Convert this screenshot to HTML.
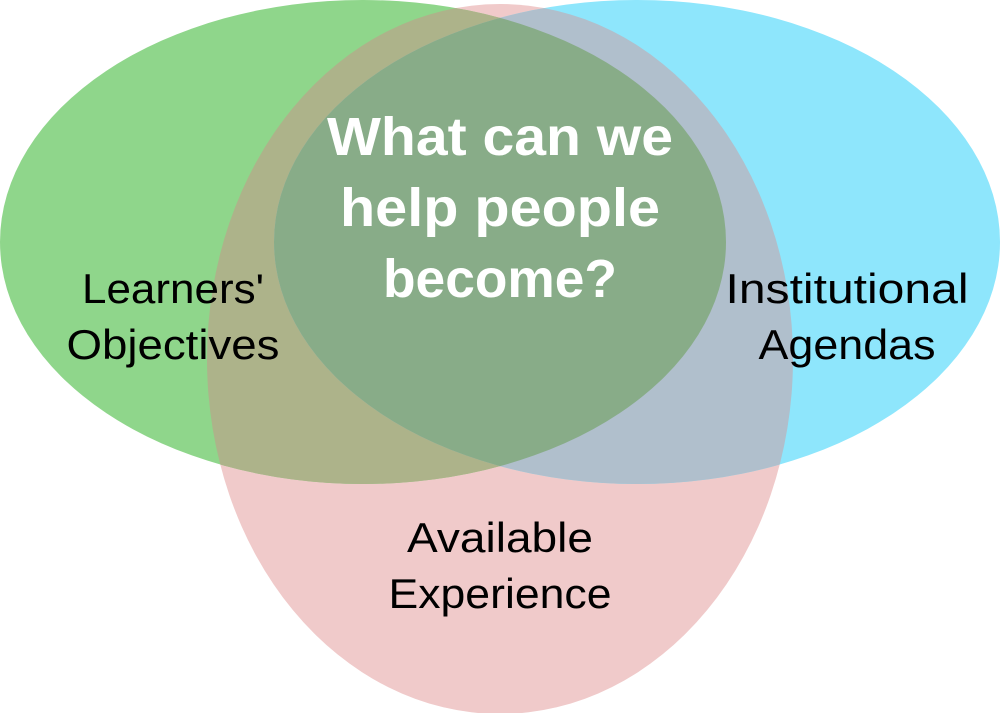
<!DOCTYPE html>
<html><head><meta charset="utf-8"><style>
html,body{margin:0;padding:0;background:#fff;}
svg{display:block}
text{font-family:"Liberation Sans",sans-serif;text-anchor:middle}
</style></head><body>
<svg width="1000" height="713" viewBox="0 0 1000 713" xmlns="http://www.w3.org/2000/svg">
<defs>
<clipPath id="cr"><ellipse cx="500" cy="359" rx="293" ry="355"/></clipPath>
<clipPath id="cg"><ellipse cx="363" cy="242" rx="363" ry="242"/></clipPath>
</defs>
<ellipse cx="500" cy="359" rx="293" ry="355" fill="#f0caca"/>
<ellipse cx="363" cy="242" rx="363" ry="242" fill="#8fd68b"/>
<ellipse cx="637" cy="242" rx="363" ry="242" fill="#8ee6fc"/>
<g clip-path="url(#cg)"><ellipse cx="637" cy="242" rx="363" ry="242" fill="#88ac88"/></g>
<g clip-path="url(#cr)">
<ellipse cx="363" cy="242" rx="363" ry="242" fill="#adb38a"/>
<ellipse cx="637" cy="242" rx="363" ry="242" fill="#b0bfcc"/>
<g clip-path="url(#cg)"><ellipse cx="637" cy="242" rx="363" ry="242" fill="#88ac88"/></g>
</g>
<g fill="#fff" font-weight="bold" font-size="54">
<text x="500" y="155" textLength="346" lengthAdjust="spacingAndGlyphs">What can we</text>
<text x="500" y="226" textLength="320" lengthAdjust="spacingAndGlyphs">help people</text>
<text x="500" y="297" textLength="234" lengthAdjust="spacingAndGlyphs">become?</text>
</g>
<g fill="#000" font-size="42">
<text x="173" y="303" textLength="182" lengthAdjust="spacingAndGlyphs">Learners'</text>
<text x="173" y="359" textLength="213" lengthAdjust="spacingAndGlyphs">Objectives</text>
<text x="847" y="303" textLength="243" lengthAdjust="spacingAndGlyphs">Institutional</text>
<text x="847" y="359" textLength="177" lengthAdjust="spacingAndGlyphs">Agendas</text>
<text x="500" y="552" textLength="186" lengthAdjust="spacingAndGlyphs">Available</text>
<text x="500" y="608" textLength="223" lengthAdjust="spacingAndGlyphs">Experience</text>
</g>
</svg>
</body></html>
